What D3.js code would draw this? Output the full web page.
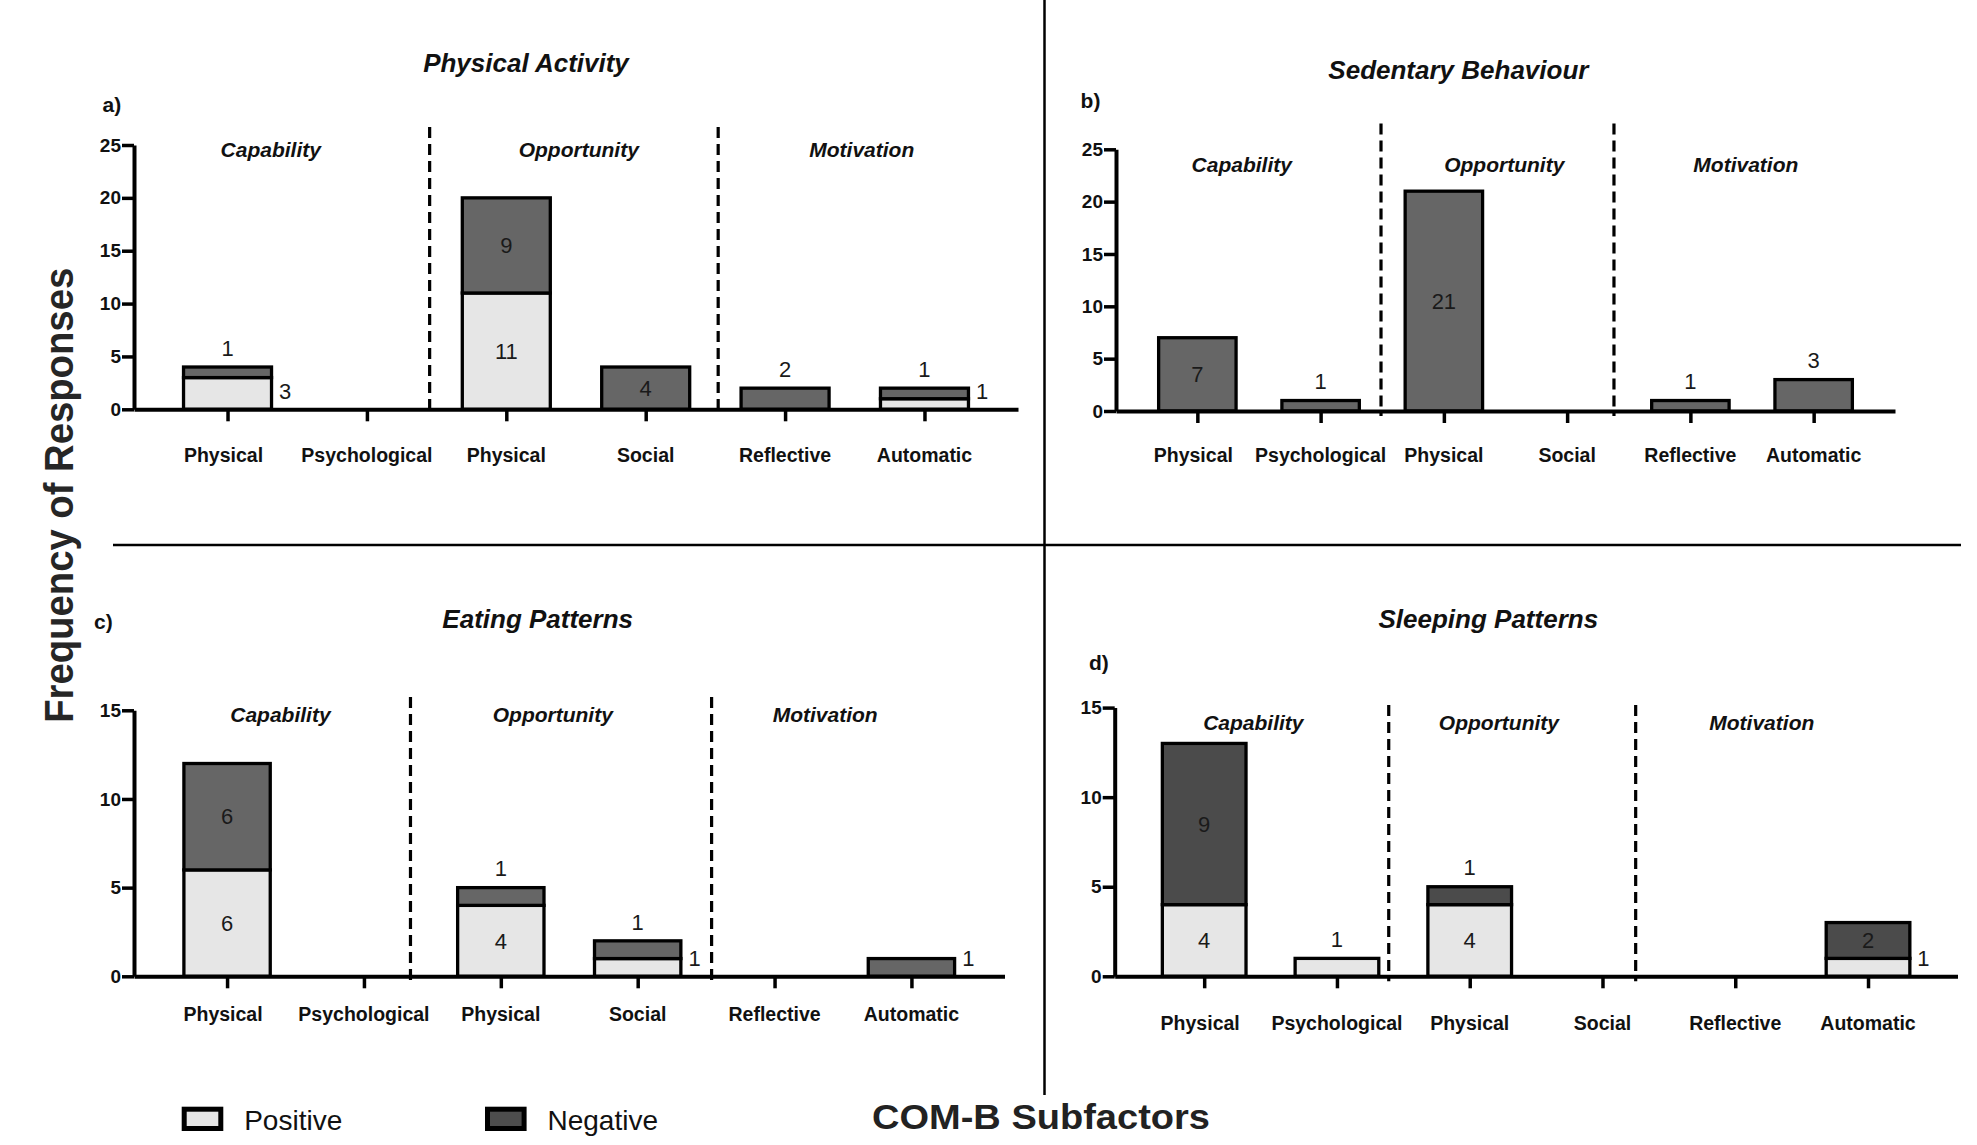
<!DOCTYPE html>
<html>
<head>
<meta charset="utf-8">
<script src="https://cdn.jsdelivr.net/npm/d3@7"></script>
<style>
  html, body { margin: 0; padding: 0; background: #fff; }
  svg { display: block; }
  text { font-family: "Liberation Sans", Arial, Helvetica, sans-serif; }
</style>
</head>
<body>
<svg id="chart" width="1977" height="1145"></svg>
<script>
// COM-B subfactors shown on every panel, in order
const subfactors = ["Physical", "Psychological", "Physical", "Social", "Reflective", "Automatic"];
const comGroups = ["Capability", "Opportunity", "Motivation"];

const panelTitles = ["Physical Activity", "Sedentary Behaviour", "Eating Patterns", "Sleeping Patterns"];
const panelLetters = ["a)", "b)", "c)", "d)"];
const yMaxima = [25, 25, 15, 15];
const yTicks25 = [0, 5, 10, 15, 20, 25];
const yTicks15 = [0, 5, 10, 15];

// Response counts per subfactor
const positiveActivity = [3, 0, 11, 0, 0, 1];
const negativeActivity = [1, 0, 9, 4, 2, 1];
const positiveSedentary = [0, 0, 0, 0, 0, 0];
const negativeSedentary = [7, 1, 21, 0, 1, 3];
const positiveEating = [6, 0, 4, 1, 0, 0];
const negativeEating = [6, 0, 1, 1, 0, 1];
const positiveSleeping = [4, 1, 4, 0, 0, 1];
const negativeSleeping = [9, 0, 1, 0, 0, 2];

const legendLabels = ["Positive", "Negative"];

// Panel geometry (pixels) — kept apart from the data above
const layout = [
  { x0: 134, x1: 1018, yBase: 409.3, yTop: 145, pad: 0.671, title: [526, 62.6], letter: [102.5, 104.3],
    groupY: 149.5, groupAt: [0.31, 2.52, 4.55], dividers: [1.45, 3.52], dashTop: 127, catDy: 45.7, neg: "#666666" },
  { x0: 1116, x1: 1895, yBase: 411, yTop: 149.3, pad: 0.66, title: [1458.4, 69.5], letter: [1080.6, 100.8],
    groupY: 165, groupAt: [0.36, 2.49, 4.45], dividers: [1.49, 3.38], dashTop: 123.4, catDy: 44.3, neg: "#666666" },
  { x0: 134, x1: 1004.5, yBase: 976.3, yTop: 710.3, pad: 0.68, title: [537.7, 619], letter: [94, 621.5],
    groupY: 714.5, groupAt: [0.39, 2.38, 4.37], dividers: [1.34, 3.54], dashTop: 697, catDy: 37.5, neg: "#666666" },
  { x0: 1114.7, x1: 1957.5, yBase: 976.3, yTop: 707.6, pad: 0.674, title: [1488.3, 619], letter: [1089, 663],
    groupY: 723, groupAt: [0.37, 2.22, 4.2], dividers: [1.39, 3.25], dashTop: 705, catDy: 47.1, neg: "#4b4b4b" }
];

const panels = [
  { pos: positiveActivity, neg: negativeActivity, ticks: yTicks25 },
  { pos: positiveSedentary, neg: negativeSedentary, ticks: yTicks25 },
  { pos: positiveEating, neg: negativeEating, ticks: yTicks15 },
  { pos: positiveSleeping, neg: negativeSleeping, ticks: yTicks15 }
];
// value labels that sit beside their bar instead of above it: [panel, subfactor]
const besideLabels = [[2, 5]];

const POS_FILL = "#e6e6e6";
const svg = d3.select("#chart");

// frame separating the four panels
svg.append("line").attr("x1", 1044.5).attr("x2", 1044.5).attr("y1", 0).attr("y2", 1095)
  .attr("stroke", "#000").attr("stroke-width", 2.5);
svg.append("line").attr("x1", 113).attr("x2", 1961).attr("y1", 545).attr("y2", 545)
  .attr("stroke", "#000").attr("stroke-width", 2.5);

panels.forEach((p, pi) => {
  const L = layout[pi];
  const g = svg.append("g");
  const idx = d3.range(subfactors.length);

  const x = d3.scalePoint().domain(idx).range([L.x0, L.x1]).padding(L.pad);
  const y = d3.scaleLinear().domain([0, yMaxima[pi]]).range([L.yBase, L.yTop]);
  const step = x.step();
  const atIndex = i => x(0) + i * step;
  const strokeW = 3.3;
  const bw = step * 0.655 - strokeW;
  const pxPerUnit = y(0) - y(1);

  // titles
  g.append("text").attr("x", L.title[0]).attr("y", L.title[1]).attr("dy", "0.35em")
    .attr("text-anchor", "middle").attr("font-size", 26).attr("font-weight", "bold")
    .attr("font-style", "italic").attr("fill", "#111").text(panelTitles[pi]);
  g.append("text").attr("x", L.letter[0]).attr("y", L.letter[1]).attr("dy", "0.35em")
    .attr("font-size", 21).attr("font-weight", "bold").attr("fill", "#111").text(panelLetters[pi]);

  // COM-B group headers and dashed dividers
  comGroups.forEach((name, k) => {
    g.append("text").attr("x", atIndex(L.groupAt[k])).attr("y", L.groupY).attr("dy", "0.35em")
      .attr("text-anchor", "middle").attr("font-size", 21).attr("font-weight", "bold")
      .attr("font-style", "italic").attr("fill", "#111").text(name);
  });
  L.dividers.forEach(d => {
    g.append("line").attr("x1", atIndex(d)).attr("x2", atIndex(d))
      .attr("y1", L.dashTop).attr("y2", L.yBase + 5)
      .attr("stroke", "#000").attr("stroke-width", 3.2).attr("stroke-dasharray", "11,6");
  });

  // stacked bars: positive at the bottom, negative on top
  const segs = [];
  idx.forEach(i => {
    const pv = p.pos[i], nv = p.neg[i];
    if (pv > 0) segs.push({ i, lo: 0, hi: pv, v: pv, kind: "pos", under: nv > 0 });
    if (nv > 0) segs.push({ i, lo: pv, hi: pv + nv, v: nv, kind: "neg", under: false });
  });

  g.selectAll("rect.bar").data(segs).join("rect").attr("class", "bar")
    .attr("x", d => x(d.i) - bw / 2)
    .attr("y", d => y(d.hi))
    .attr("width", bw)
    .attr("height", d => y(d.lo) - y(d.hi))
    .attr("fill", d => d.kind === "pos" ? POS_FILL : L.neg)
    .attr("stroke", "#000").attr("stroke-width", strokeW);

  // value labels
  g.selectAll("text.val").data(segs).join("text").attr("class", "val")
    .each(function (d) {
      const h = d.v * pxPerUnit;
      const cx = x(d.i);
      const right = x(d.i) + bw / 2 + strokeW / 2 + 12;
      const beside = besideLabels.some(b => b[0] === pi && b[1] === d.i);
      let tx, ty;
      if (h >= 33) {
        tx = cx; ty = (y(d.lo) + y(d.hi)) / 2;
      } else if (d.under || beside) {
        tx = right; ty = Math.min((y(d.lo) + y(d.hi)) / 2, L.yBase - 18);
      } else {
        tx = cx; ty = y(p.pos[d.i] + p.neg[d.i]) - 19;
      }
      d3.select(this).attr("x", tx).attr("y", ty);
    })
    .attr("dy", "0.35em").attr("text-anchor", "middle")
    .attr("font-size", 22).attr("fill", "#1a1a1a")
    .text(d => d.v);

  // y axis
  const yAxis = g.append("g").attr("transform", `translate(${L.x0},0)`)
    .call(d3.axisLeft(y).tickValues(p.ticks).tickSize(12).tickPadding(1).tickSizeOuter(0));
  yAxis.select(".domain").attr("stroke", "#000").attr("stroke-width", 4);
  yAxis.selectAll(".tick line").attr("stroke", "#000").attr("stroke-width", 3.5);
  yAxis.selectAll(".tick text").attr("font-size", 19).attr("font-weight", "bold")
    .attr("fill", "#111").attr("font-family", "Liberation Sans, Arial, sans-serif");

  // x axis baseline with ticks
  const xAxis = g.append("g").attr("transform", `translate(0,${L.yBase})`)
    .call(d3.axisBottom(x).tickSize(12).tickSizeOuter(0).tickFormat(() => ""));
  xAxis.select(".domain").attr("stroke", "#000").attr("stroke-width", 4);
  xAxis.selectAll(".tick line").attr("stroke", "#000").attr("stroke-width", 3.5);

  g.selectAll("text.cat").data(idx).join("text").attr("class", "cat")
    .attr("x", i => x(i) - (i === 0 ? 4 : 0)).attr("y", L.yBase + L.catDy).attr("dy", "0.35em")
    .attr("text-anchor", "middle").attr("font-size", 19.5).attr("font-weight", "bold")
    .attr("fill", "#111").text(i => subfactors[i]);
});

// shared axis titles
svg.append("text")
  .attr("transform", "translate(73,495.3) rotate(-90)")
  .attr("text-anchor", "middle").attr("font-size", 41).attr("font-weight", "bold")
  .attr("fill", "#262626").attr("textLength", 455).attr("lengthAdjust", "spacingAndGlyphs")
  .text("Frequency of Responses");
svg.append("text")
  .attr("x", 872).attr("y", 1129)
  .attr("font-size", 35).attr("font-weight", "bold")
  .attr("fill", "#222").attr("textLength", 338).attr("lengthAdjust", "spacingAndGlyphs")
  .text("COM-B Subfactors");

// legend
const legendX = [184.2, 487.5];
const legendFill = [POS_FILL, "#4d4d4d"];
legendLabels.forEach((lab, k) => {
  svg.append("rect").attr("x", legendX[k]).attr("y", 1109.2).attr("width", 36.6).attr("height", 19.3)
    .attr("fill", legendFill[k]).attr("stroke", "#000").attr("stroke-width", 5);
  svg.append("text").attr("x", legendX[k] + 60).attr("y", 1120).attr("dy", "0.35em")
    .attr("font-size", 28).attr("fill", "#111").text(lab);
});
</script>
</body>
</html>
